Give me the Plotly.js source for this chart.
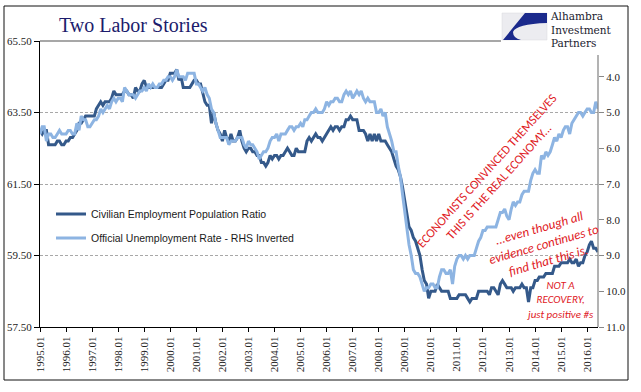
<!DOCTYPE html>
<html><head><meta charset="utf-8">
<script src="https://cdn.plot.ly/plotly-3.0.1.min.js"></script>
<style>html,body{margin:0;padding:0;background:#fff}#chart{width:641px;height:392px}</style>
</head><body><div id="chart"></div>
<script>
const startYear = 1995;
const seriesNames = ["Civilian Employment Population Ratio", "Official Unemployment Rate - RHS Inverted"];
const empRatio = [
63.0,62.9,63.0,63.0,62.6,62.6,62.6,62.6,62.7,62.7,62.6,62.6,
62.7,62.7,62.8,62.8,62.9,63.0,63.2,63.2,63.3,63.4,63.4,63.4,
63.4,63.4,63.6,63.7,63.8,63.7,63.8,63.8,63.8,63.9,64.1,64.0,
64.0,64.0,64.0,64.1,64.1,64.0,64.0,63.9,64.2,64.1,64.1,64.3,
64.4,64.2,64.2,64.2,64.2,64.2,64.2,64.2,64.2,64.3,64.4,64.4,
64.6,64.6,64.6,64.7,64.4,64.5,64.2,64.2,64.2,64.2,64.3,64.4,
64.4,64.3,64.3,64.0,63.8,63.7,63.7,63.2,63.5,63.2,63.0,62.9,
62.7,63.0,62.8,62.7,62.9,62.7,62.7,62.8,63.0,62.7,62.5,62.4,
62.5,62.5,62.4,62.4,62.3,62.3,62.1,62.1,62.0,62.1,62.3,62.2,
62.3,62.3,62.2,62.3,62.3,62.4,62.5,62.4,62.3,62.3,62.5,62.4,
62.4,62.4,62.4,62.7,62.8,62.7,62.8,62.9,62.8,62.8,62.7,62.8,
62.9,63.0,63.1,63.0,63.1,63.1,63.0,63.1,63.1,63.3,63.3,63.4,
63.3,63.3,63.3,63.0,63.0,63.0,62.9,62.7,62.9,62.7,62.9,62.7,
62.9,62.7,62.7,62.7,62.6,62.5,62.4,62.2,62.0,61.9,61.7,61.4,
61.0,60.6,60.3,60.2,60.0,59.9,59.7,59.5,59.1,58.8,58.7,58.3,
58.5,58.5,58.5,58.7,58.6,58.5,58.5,58.5,58.5,58.3,58.3,58.3,
58.3,58.4,58.4,58.4,58.4,58.3,58.2,58.3,58.3,58.3,58.5,58.5,
58.5,58.5,58.5,58.4,58.6,58.6,58.5,58.4,58.7,58.8,58.7,58.6,
58.6,58.6,58.5,58.6,58.6,58.6,58.7,58.6,58.6,58.2,58.6,58.6,
58.8,58.8,58.9,58.9,58.9,59.0,59.0,59.0,59.0,59.2,59.2,59.2,
59.3,59.3,59.3,59.3,59.4,59.3,59.3,59.4,59.2,59.3,59.3,59.5,
59.6,59.8,59.9,59.7,59.7,59.6
];
const unempRate = [
5.6,5.4,5.4,5.8,5.6,5.6,5.7,5.7,5.6,5.5,5.6,5.6,
5.6,5.5,5.5,5.6,5.6,5.3,5.5,5.1,5.2,5.2,5.4,5.4,
5.3,5.2,5.2,5.1,4.9,5.0,4.9,4.8,4.9,4.7,4.6,4.7,
4.6,4.6,4.7,4.3,4.4,4.5,4.5,4.5,4.6,4.5,4.4,4.4,
4.3,4.4,4.2,4.3,4.2,4.3,4.3,4.2,4.2,4.1,4.1,4.0,
4.0,4.1,4.0,3.8,4.0,4.0,4.0,4.1,3.9,3.9,3.9,3.9,
4.2,4.2,4.3,4.4,4.3,4.5,4.6,4.9,5.0,5.3,5.5,5.7,
5.7,5.7,5.7,5.9,5.8,5.8,5.8,5.7,5.7,5.7,5.9,6.0,
5.8,5.9,5.9,6.0,6.1,6.3,6.2,6.1,6.1,6.0,5.8,5.7,
5.7,5.6,5.8,5.6,5.6,5.6,5.5,5.4,5.4,5.5,5.4,5.4,
5.3,5.4,5.2,5.2,5.1,5.0,5.0,4.9,5.0,5.0,5.0,4.9,
4.7,4.8,4.7,4.7,4.6,4.6,4.7,4.7,4.5,4.4,4.5,4.4,
4.6,4.5,4.4,4.5,4.4,4.6,4.7,4.6,4.7,4.7,4.7,5.0,
5.0,4.9,5.1,5.0,5.4,5.6,5.8,6.1,6.1,6.5,6.8,7.3,
7.8,8.3,8.7,9.0,9.4,9.5,9.5,9.6,9.8,10.0,9.9,9.9,
9.8,9.8,9.9,9.9,9.6,9.4,9.4,9.5,9.5,9.4,9.8,9.3,
9.1,9.0,9.0,9.1,9.0,9.1,9.0,9.0,9.0,8.8,8.6,8.5,
8.3,8.3,8.2,8.2,8.2,8.2,8.2,8.0,7.8,7.8,7.7,7.9,
8.0,7.7,7.5,7.6,7.5,7.5,7.3,7.2,7.2,7.2,6.9,6.7,
6.6,6.7,6.7,6.2,6.3,6.1,6.2,6.1,5.9,5.7,5.8,5.6,
5.7,5.5,5.4,5.4,5.6,5.3,5.2,5.1,5.0,5.0,5.1,5.0,
4.9,4.9,5.0,5.0,4.7,4.9
];
const tickYears = [1995,1996,1997,1998,1999,2000,2001,2002,2003,2004,2005,2006,2007,2008,2009,2010,2011,2012,2013,2014,2015,2016];
const leftTicks = [57.5,59.5,61.5,63.5,65.5];
const rightTicks = [4,5,6,7,8,9,10,11];

const months = empRatio.map((_, i) => {
  const y = startYear + Math.floor(i / 12);
  const m = (i % 12) + 1;
  return y + '-' + String(m).padStart(2, '0') + '-01';
});
const lastDate = months[months.length - 1];

// pixel -> paper helpers (plot area 40..598 x 41..327)
const L = 40, R = 598, T = 41, B = 327;
const px = x => (x - L) / (R - L);
const py = y => (B - y) / (B - T);

const serif = 'Liberation Serif, Times New Roman, serif';
const red = '#e0211f';
const noteFont = 'Carlito, Lato, sans-serif';

const traces = [
  {x: months, y: empRatio, name: seriesNames[0], type: 'scatter', mode: 'lines',
   line: {color: '#34598a', width: 3}, yaxis: 'y', legend: 'legend'},
  {x: months, y: unempRate, name: seriesNames[1], type: 'scatter', mode: 'lines',
   line: {color: '#8db4e2', width: 3}, yaxis: 'y2', legend: 'legend2'}
];

const swoosh = 'M' + px(525) + ',' + py(13) + ' L' + px(547) + ',' + py(13) + ' L' + px(547) + ',' + py(23) +
  ' Q' + px(516) + ',' + py(24) + ' ' + px(513) + ',' + py(32) +
  ' Q' + px(513) + ',' + py(38) + ' ' + px(521) + ',' + py(40) +
  ' L' + px(503) + ',' + py(40) + ' Z';

const legendFont = {family: 'Liberation Sans, Arial, sans-serif', size: 10.5, color: '#1a1a1a'};

const layout = {
  width: 641, height: 392,
  margin: {l: L, r: 641 - R, t: T, b: 392 - B, pad: 0},
  paper_bgcolor: '#fff', plot_bgcolor: '#fff',
  title: {text: 'Two Labor Stories', x: 59 / 641, xanchor: 'left', xref: 'container',
          y: 1 - 25 / 392, yanchor: 'middle', yref: 'container',
          font: {family: serif, size: 20, color: '#1c1c6c'}},
  xaxis: {type: 'date', range: [months[0], lastDate],
          tickvals: tickYears.map(y => y + '-01-01'), ticktext: tickYears.map(y => y + '.01'),
          tickangle: -90, ticks: 'outside', ticklen: 4, tickcolor: '#000',
          showline: true, linecolor: '#000', linewidth: 1, showgrid: false, zeroline: false,
          tickfont: {family: serif, size: 11, color: '#222'}},
  yaxis: {range: [57.5, 65.5], tickvals: leftTicks, ticktext: leftTicks.map(v => v.toFixed(2)),
          ticks: 'outside', ticklen: 5, tickcolor: '#000', showline: true, linecolor: '#000', linewidth: 1,
          showgrid: true, gridcolor: '#a8a8a8', griddash: '3px,2px', gridwidth: 1, zeroline: false,
          tickfont: {family: serif, size: 11, color: '#222'}},
  yaxis2: {range: [11, 3], overlaying: 'y', side: 'right', anchor: 'x',
           tickvals: rightTicks, ticktext: rightTicks.map(v => v.toFixed(1)),
           ticks: 'outside', ticklen: 5, tickcolor: '#888', showline: false, showgrid: false, zeroline: false,
           tickfont: {family: serif, size: 11, color: '#222'}},
  legend: {x: px(51), xanchor: 'left', y: py(214), yanchor: 'middle', bgcolor: 'rgba(0,0,0,0)',
           borderwidth: 0, font: legendFont},
  legend2: {x: px(51), xanchor: 'left', y: py(238), yanchor: 'middle', bgcolor: 'rgba(0,0,0,0)',
            borderwidth: 0, font: legendFont},
  shapes: [
    {type: 'rect', xref: 'paper', yref: 'paper', x0: px(4), x1: px(628), y0: py(380), y1: py(6),
     line: {color: '#111', width: 1}, fillcolor: 'rgba(0,0,0,0)', layer: 'below'},
    {type: 'line', xref: 'paper', yref: 'paper', x0: 0, x1: px(502), y0: 1, y1: 1,
     line: {color: '#8a8a8a', width: 1.3}, layer: 'above'},
    {type: 'rect', xref: 'paper', yref: 'paper', x0: px(501), x1: px(627), y0: py(54), y1: py(7),
     line: {width: 0}, fillcolor: '#fff', layer: 'above'},
    {type: 'line', xref: 'paper', yref: 'paper', x0: 1, x1: 1, y0: 0, y1: py(55),
     line: {color: '#8a8a8a', width: 1.3}, layer: 'above'},
    {type: 'rect', xref: 'paper', yref: 'paper', x0: px(502), x1: px(547), y0: py(40), y1: py(13),
     line: {color: '#d8d8de', width: 0.5}, fillcolor: '#ececf0', layer: 'above'},
    {type: 'path', xref: 'paper', yref: 'paper', path: swoosh,
     line: {width: 0}, fillcolor: '#1b2a8c', layer: 'above'}
  ],
  annotations: [
    {xref: 'paper', yref: 'paper', x: px(548), y: py(29.5), xanchor: 'left', yanchor: 'middle', showarrow: false,
     align: 'left', text: 'Alhambra<br>Investment<br>Partners',
     font: {family: 'DejaVu Serif, serif', size: 10.5, color: '#1a1a2e'}},
    {xref: 'paper', yref: 'paper', x: px(493), y: py(176), xanchor: 'center', yanchor: 'middle', showarrow: false,
     textangle: -48, text: 'ECONOMISTS CONVINCED THEMSELVES<br>THIS IS THE REAL ECONOMY...',
     font: {family: noteFont, size: 12.5, color: red}},
    {xref: 'paper', yref: 'paper', x: px(543), y: py(244), xanchor: 'center', yanchor: 'middle', showarrow: false,
     textangle: -16, text: '<i>...even though all<br>evidence continues to<br>find that this is.</i>',
     font: {family: noteFont, size: 13, color: red}},
    {xref: 'paper', yref: 'paper', x: px(560), y: py(300), xanchor: 'center', yanchor: 'middle', showarrow: false,
     text: '<i>NOT A<br>RECOVERY,<br>just positive #s</i>',
     font: {family: noteFont, size: 11, color: red}}
  ],
  showlegend: true
};

Plotly.newPlot('chart', traces, layout, {displayModeBar: false, staticPlot: true});
</script>
</body></html>
